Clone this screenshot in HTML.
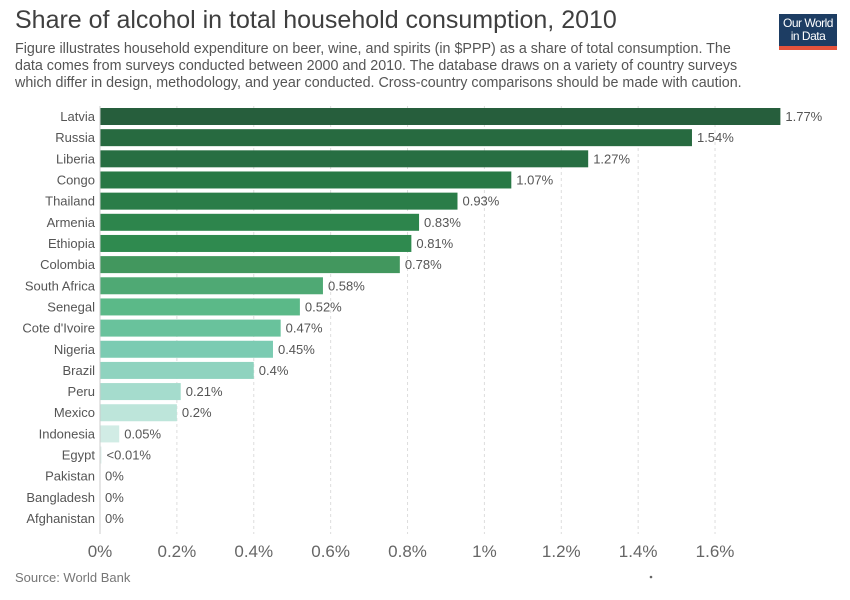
<!DOCTYPE html>
<html><head><meta charset="utf-8"><style>
body{margin:0;width:850px;height:600px;background:#fff;font-family:"Liberation Sans",sans-serif;overflow:hidden;position:relative}
.t{position:absolute;white-space:nowrap}
</style></head><body>
<div class="t" style="left:15px;top:6px;font-size:25px;color:#3f3f3f">Share of alcohol in total household consumption, 2010</div>
<div class="t" style="left:15px;top:41px;font-size:14.3px;line-height:17px;color:#555">Figure illustrates household expenditure on beer, wine, and spirits (in $PPP) as a share of total consumption. The<br>data comes from surveys conducted between 2000 and 2010. The database draws on a variety of country surveys<br>which differ in design, methodology, and year conducted. Cross-country comparisons should be made with caution.</div>
<div style="position:absolute;left:779px;top:14px;width:58px;height:36px;background:#1d3d63;border-bottom:4px solid #e5533c;color:#fff;font-size:12px;line-height:13px;text-align:center;padding-top:3px;box-sizing:border-box;letter-spacing:-0.5px">Our World<br>in Data</div>
<svg id="c" width="850" height="600" style="position:absolute;left:0;top:0"></svg>
<div class="t" style="left:15px;top:570px;font-size:13px;color:#777">Source: World Bank</div>
<script>
const countries=["Latvia","Russia","Liberia","Congo","Thailand","Armenia","Ethiopia","Colombia","South Africa","Senegal","Cote d'Ivoire","Nigeria","Brazil","Peru","Mexico","Indonesia","Egypt","Pakistan","Bangladesh","Afghanistan"];
const values=[1.77,1.54,1.27,1.07,0.93,0.83,0.81,0.78,0.58,0.52,0.47,0.45,0.4,0.21,0.2,0.05,0.004,0,0,0];
const valueLabels=["1.77%","1.54%","1.27%","1.07%","0.93%","0.83%","0.81%","0.78%","0.58%","0.52%","0.47%","0.45%","0.4%","0.21%","0.2%","0.05%","<0.01%","0%","0%","0%"];
const ticks=[0,0.2,0.4,0.6,0.8,1,1.2,1.4,1.6];
const tickLabels=["0%","0.2%","0.4%","0.6%","0.8%","1%","1.2%","1.4%","1.6%"];
const palette=["#265e3c","#276a40","#276e42","#287845","#2a7d48","#2d854c","#2f8a4f","#42975e","#4fa974","#5bb988","#69c29c","#7bcbb2","#8fd3bf","#a5dccd","#bde5da","#d1ece5","#e0f2ed","#e0f2ed","#e0f2ed","#e0f2ed"];
const NS="http://www.w3.org/2000/svg",svg=document.getElementById('c');
const x=v=>100+v*384.4, y=i=>108+i*21.16;
function mk(t,a){const e=document.createElementNS(NS,t);for(const k in a)e.setAttribute(k,a[k]);svg.appendChild(e);return e;}
ticks.forEach((t,i)=>{
 if(i>0){const g=mk('line',{x1:x(t),x2:x(t),y1:106,y2:534,stroke:'#ddd','stroke-dasharray':'3,3'});
 
 }
 const l=mk('text',{x:x(t),y:557,'text-anchor':'middle','font-size':17,fill:'#666'});l.textContent=tickLabels[i];
 
 
});
countries.forEach((n,i)=>{
 const r=mk('rect',{x:x(0),y:y(i),width:Math.max(0,x(values[i])-x(0)),height:17,fill:palette[i]});
 
 
 const lb=mk('text',{x:95,y:y(i)+13,'text-anchor':'end','font-size':13,fill:'#555'});lb.textContent=n;
 
 
 const vl=mk('text',{x:x(values[i])+5,y:y(i)+13,'font-size':13,fill:'#555'});vl.textContent=valueLabels[i];
 
 
});
const ax=mk('line',{x1:100,x2:100,y1:106,y2:534,stroke:'#ccc'});


const d=mk('circle',{cx:651,cy:577,r:1.3,fill:'#666'});


</script>
</body></html>
